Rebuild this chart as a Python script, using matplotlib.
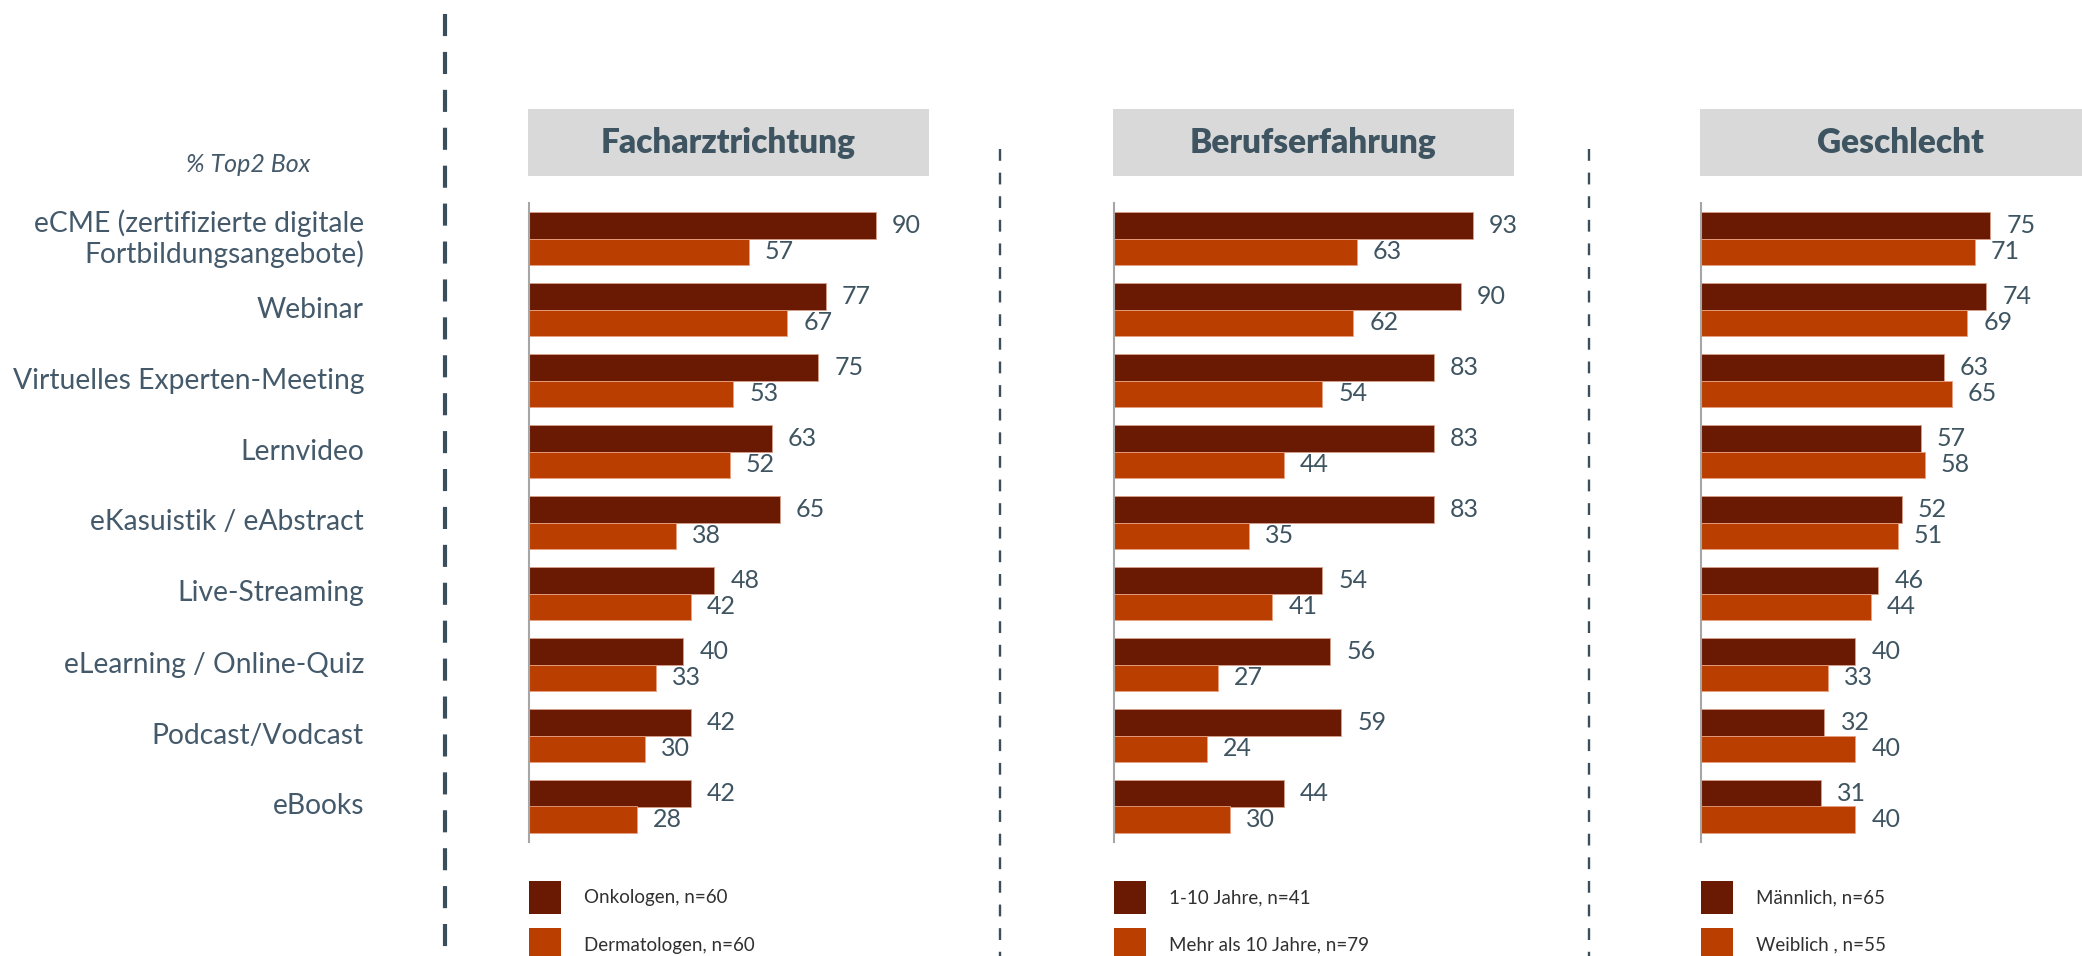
import matplotlib.pyplot as plt
from matplotlib.patches import Rectangle
from matplotlib.lines import Line2D

# data
categories = ["eCME (zertifizierte digitale\nFortbildungsangebote)", "Webinar",
              "Virtuelles Experten-Meeting", "Lernvideo", "eKasuistik / eAbstract",
              "Live-Streaming", "eLearning / Online-Quiz", "Podcast/Vodcast", "eBooks"]

titles = ["Facharztrichtung", "Berufserfahrung", "Geschlecht"]

onkologen = [90, 77, 75, 63, 65, 48, 40, 42, 42]
dermatologen = [57, 67, 53, 52, 38, 42, 33, 30, 28]
jahre_1_10 = [93, 90, 83, 83, 83, 54, 56, 59, 44]
jahre_mehr_10 = [63, 62, 54, 44, 35, 41, 27, 24, 30]
maennlich = [75, 74, 63, 57, 52, 46, 40, 32, 31]
weiblich = [71, 69, 65, 58, 51, 44, 33, 40, 40]

legend_labels = [["Onkologen, n=60", "Dermatologen, n=60"],
                 ["1-10 Jahre, n=41", "Mehr als 10 Jahre, n=79"],
                 ["Männlich, n=65", "Weiblich , n=55"]]

series = [(onkologen, dermatologen), (jahre_1_10, jahre_mehr_10), (maennlich, weiblich)]

DARK = "#6A1A02"
ORANGE = "#BA3E00"
SLATE = "#3E5461"
W, H = 2082, 956

plt.rcParams['font.family'] = ['Lato', 'DejaVu Sans']

fig = plt.figure(figsize=(W / 100, H / 100), dpi=100)


def fx(px):
    return px / W


def fy(py):
    # pixel from top -> figure fraction from bottom
    return 1 - py / H


panel_x = [529, 1114, 1701]
ax_top, ax_bot = 203, 842
n = len(categories)

for k in range(3):
    x0 = panel_x[k]
    ax = fig.add_axes([fx(x0), fy(ax_bot), fx(401), (ax_bot - ax_top) / H])
    a, b = series[k]
    pos = list(range(n))
    h = 0.38
    ax.barh([p - h / 2 for p in pos], a, height=h, color=DARK, edgecolor="#d9a08a", linewidth=0.6)
    ax.barh([p + h / 2 for p in pos], b, height=h, color=ORANGE, edgecolor="#e8a080", linewidth=0.6)
    for p, v in zip(pos, a):
        ax.text(v + 4.2, p - h / 2, str(v), va="center", ha="left", fontsize=18, color=SLATE)
    for p, v in zip(pos, b):
        ax.text(v + 4.2, p + h / 2, str(v), va="center", ha="left", fontsize=18, color=SLATE)
    ax.set_xlim(0, 104)
    ax.set_ylim(n - 0.5, -0.5)
    ax.set_xticks([])
    ax.set_yticks([])
    for s in ["top", "right", "bottom"]:
        ax.spines[s].set_visible(False)
    ax.spines["left"].set_color("#A6A6A6")
    ax.spines["left"].set_linewidth(1.5)
    ax.patch.set_alpha(0)

    # header box
    fig.add_artist(Rectangle((fx(x0 - 1), fy(176)), fx(401), (176 - 109) / H,
                             transform=fig.transFigure, facecolor="#D9D9D9", edgecolor="none"))
    fig.text(fx(x0 - 1 + 200), fy(143), titles[k], ha="center", va="center",
             fontsize=24, fontweight="heavy", color=SLATE)

    # legend
    for j, col in enumerate([DARK, ORANGE]):
        top = 881 + j * 47
        fig.add_artist(Rectangle((fx(x0), fy(top + 33)), fx(32), 33 / H,
                                 transform=fig.transFigure, facecolor=col, edgecolor="none"))
        fig.text(fx(x0 + 55), fy(top + 17), legend_labels[k][j], ha="left", va="center",
                 fontsize=13.5, color="#303030")

# category labels
for i, c in enumerate(categories):
    yc = ax_top + 35.5 + i * 71
    fig.text(fx(364), fy(yc), c, ha="right", va="center", fontsize=20.3,
             color="#44596A", linespacing=1.15)

fig.text(fx(310), fy(165), "% Top2 Box", ha="right", va="center", fontsize=18,
         color="#44596A", style="italic")

# dashed separators
fig.add_artist(Line2D([fx(445), fx(445)], [fy(14), 0], transform=fig.transFigure,
                      color="#3B4E5C", linewidth=3, dashes=(5.3, 3.8)))
for xs in [1000, 1589]:
    fig.add_artist(Line2D([fx(xs), fx(xs)], [fy(149), 0], transform=fig.transFigure,
                          color="#3B4E5C", linewidth=1.7, dashes=(5, 5)))

fig.savefig("out.png", dpi=100)
